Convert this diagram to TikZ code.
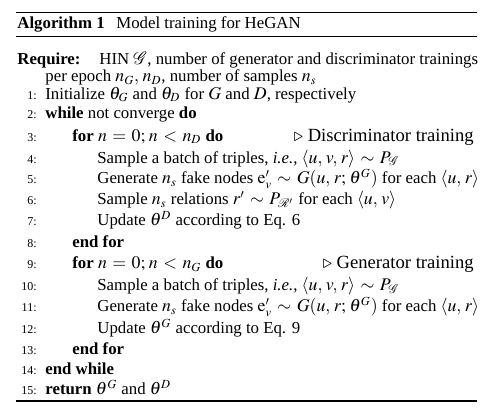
\documentclass[tikz,border=0pt]{standalone}
\usepackage{amsmath}
\usepackage{mathptmx}
\usepackage{fontspec}
\setmainfont{Liberation Serif}
\DeclareMathSizes{8.4}{8.9}{6.2}{5}
\newcommand{\algsize}{\fontsize{8.4}{10}\selectfont
  \thinmuskip=3.5mu \medmuskip=4.5mu \thickmuskip=5.5mu}
\begin{document}
\begin{tikzpicture}[
  x=0.5pt, y=-0.5pt,
  every node/.style = {inner sep=0pt, font=\algsize},
  algline/.style = {anchor=base west},
  lineno/.style = {anchor=base east, font=\fontsize{6}{7}\selectfont},
  algcomment/.style = {anchor=base east, font=\fontsize{9.3}{11}\selectfont}
  ]
  \useasboundingbox (0,0) rectangle (484,412);
  % rules
  \draw[line width=0.8pt] (16,12.7) -- (477,12.7);
  \draw[line width=0.45pt] (16,36.5) -- (477,36.5);
  \draw[line width=0.6pt] (16,401) -- (477,401);
  % caption
  \node[algline] (caption) at (17,28) {\textbf{Algorithm 1}\hspace{0.7em}Model training for HeGAN};
  % input
  \node[algline] (require) at (17,64) {\textbf{Require:}};
  \node[algline] (input1) at (99,64) {HIN $\mathcal{G}$, number of generator and discriminator trainings};
  \node[algline] (input2) at (45,81.5) {per epoch $n_G, n_D$, number of samples $n_s$};
  % body
  \node[lineno] (num1) at (37,99) {1:};
  \node[algline] (l1) at (45,99) {Initialize $\theta_G$ and $\theta_D$ for $G$ and $D$, respectively};
  \node[lineno] (num2) at (37,119) {2:};
  \node[algline] (l2) at (45,119) {\textbf{while} not converge \textbf{do}};
  \node[lineno] (num3) at (37,141) {3:};
  \node[algline] (l3) at (72,141) {\textbf{for} $n = 0; n < n_D$ \textbf{do}};
  \node[algcomment] (c3) at (474,141) {$\triangleright$ Discriminator training};
  \node[lineno] (num4) at (37,163) {4:};
  \node[algline] (l4) at (97,163) {Sample a batch of triples, \emph{i.e.}, $\langle u, v, r\rangle \sim P_{\mathcal{G}}$};
  \node[lineno] (num5) at (37,184) {5:};
  \node[algline] (l5) at (97,184) {Generate $n_s$ fake nodes $\mathrm{e}'_v \sim G(u, r; \theta^G)$ for each $\langle u, r\rangle$};
  \node[lineno] (num6) at (37,205) {6:};
  \node[algline] (l6) at (97,205) {Sample $n_s$ relations $r' \sim P_{\mathcal{R}'}$ for each $\langle u, v\rangle$};
  \node[lineno] (num7) at (37,226) {7:};
  \node[algline] (l7) at (97,226) {Update $\theta^D$ according to Eq. 6};
  \node[lineno] (num8) at (37,247.5) {8:};
  \node[algline] (l8) at (72,247.5) {\textbf{end for}};
  \node[lineno] (num9) at (37,269) {9:};
  \node[algline] (l9) at (72,269) {\textbf{for} $n = 0; n < n_G$ \textbf{do}};
  \node[algcomment] (c9) at (474,269) {$\triangleright$ Generator training};
  \node[lineno] (num10) at (37,290.5) {10:};
  \node[algline] (l10) at (97,290.5) {Sample a batch of triples, \emph{i.e.}, $\langle u, v, r\rangle \sim P_{\mathcal{G}}$};
  \node[lineno] (num11) at (37,312) {11:};
  \node[algline] (l11) at (97,312) {Generate $n_s$ fake nodes $\mathrm{e}'_v \sim G(u, r; \theta^G)$ for each $\langle u, r\rangle$};
  \node[lineno] (num12) at (37,333.5) {12:};
  \node[algline] (l12) at (97,333.5) {Update $\theta^G$ according to Eq. 9};
  \node[lineno] (num13) at (37,355) {13:};
  \node[algline] (l13) at (72,355) {\textbf{end for}};
  \node[lineno] (num14) at (37,375) {14:};
  \node[algline] (l14) at (45,375) {\textbf{end while}};
  \node[lineno] (num15) at (37,395) {15:};
  \node[algline] (l15) at (45,395) {\textbf{return} $\theta^G$ and $\theta^D$};
\end{tikzpicture}
\end{document}
